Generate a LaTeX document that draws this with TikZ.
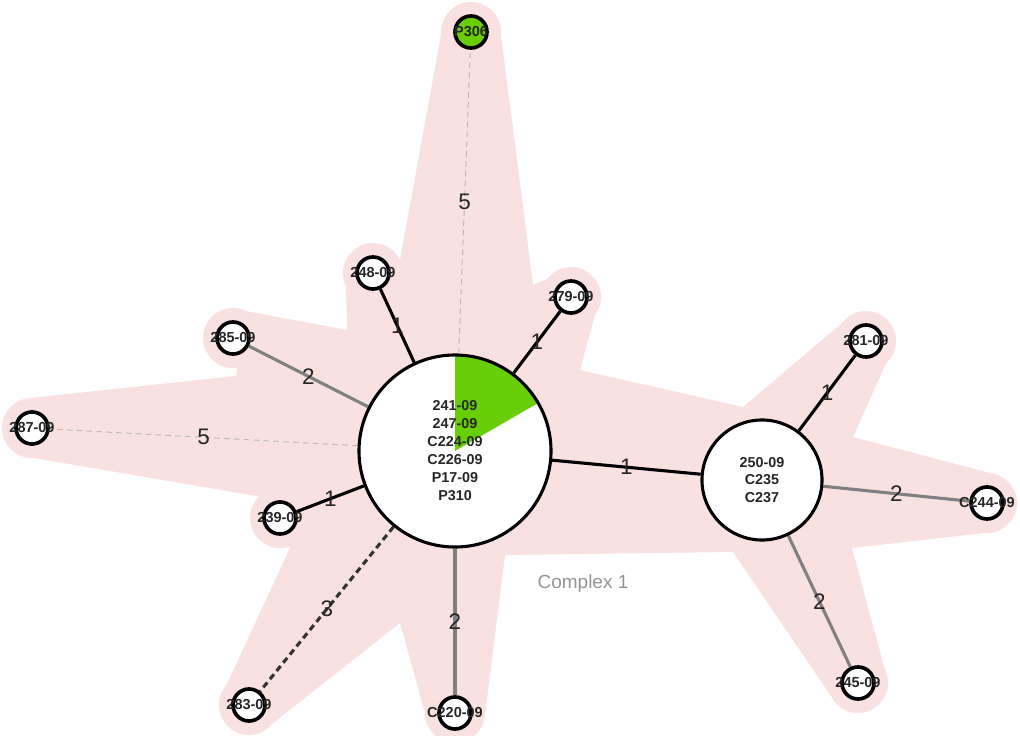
\documentclass[tikz,border=0pt]{standalone}
\usepackage{fontspec}
\setmainfont{Liberation Sans}
\usetikzlibrary{backgrounds}
\definecolor{hullpink}{RGB}{250,225,225}
\definecolor{hubgreen}{RGB}{104,206,8}
\definecolor{edgegray}{RGB}{128,128,128}
\definecolor{dashgray}{RGB}{185,185,185}

\begin{document}
\begin{tikzpicture}[x=0.025cm, y=-0.025cm,
  leaf/.style={circle, draw, line width=2.6pt, fill=white, minimum size=0.8cm, inner sep=0pt},
  hub/.style={circle, draw, line width=2.2pt, fill=white, inner sep=0pt, align=center, text=black!85},
  every label/.style={font=\fontsize{10.3}{10}\selectfont\bfseries, inner sep=0pt, text=black!85},
  elab/.style={font=\fontsize{16}{16}\selectfont, inner sep=0pt, text=black!85},
  e1/.style={line width=2.2pt},
  e2/.style={line width=2.2pt, edgegray},
  e3/.style={line width=2.2pt, black!80, dash pattern=on 4.5pt off 3pt},
  e5/.style={line width=0.7pt, dashgray, dash pattern=on 4pt off 3pt}]
  \useasboundingbox (0,0) rectangle (1020,736);

  \node[hub, minimum size=4.8cm, font=\fontsize{10.2}{12.8}\selectfont\bfseries,
    path picture={\fill[hubgreen] (path picture bounding box.center) -- ++(30:3cm) arc (30:90:3cm) -- cycle;}]
    (hubA) at (455,451) {241-09\\247-09\\C224-09\\C226-09\\P17-09\\P310};
  \node[hub, minimum size=3cm, font=\fontsize{10.2}{12.2}\selectfont\bfseries] (hubB) at (762,480) {250-09\\C235\\C237};

  \node[leaf, fill=hubgreen, label=center:P306] (p306) at (471,32) {};
  \node[leaf, label=center:248-09] (n248) at (373,273) {};
  \node[leaf, label=center:279-09] (n279) at (571,297) {};
  \node[leaf, label=center:285-09] (n285) at (233,338) {};
  \node[leaf, label=center:287-09] (n287) at (32,428) {};
  \node[leaf, label=center:239-09] (n239) at (280,518) {};
  \node[leaf, label=center:283-09] (n283) at (249,705) {};
  \node[leaf, label=center:C220-09] (c220) at (455,713) {};
  \node[leaf, label=center:281-09] (n281) at (866,341) {};
  \node[leaf, label=center:C244-09] (c244) at (987,503) {};
  \node[leaf, label=center:245-09] (n245) at (858,683) {};

  \node[text=black!42, font=\fontsize{13.5}{14}\selectfont] (cplx) at (583,584) {Complex 1};

  \begin{scope}[on background layer]
    % complex hull
    \fill[hullpink] (441,35) -- (501,35) -- (533,285) -- (547,279) -- (595,315) -- (580,370)
      -- (743,407) -- (842,323) -- (892,350) -- (853,437) -- (990,473) -- (984,533)
      -- (852,548) -- (885,670) -- (831,696) -- (733,552) -- (505,555) -- (485,715)
      -- (425,713) -- (400,623) -- (272,724) -- (226,686) -- (290,548) -- (262,497)
      -- (34,458) -- (30,398) -- (236,376) -- (246,311) -- (347,330) -- (346,286)
      -- (400,260) -- cycle;
    \foreach \n in {p306,n248,n279,n285,n287,n239,n283,c220,n281,c244,n245}
      \fill[hullpink] (\n.center) circle (0.75cm);

    \draw[e5] (hubA) -- node[elab]{5} (p306);
    \draw[e1] (hubA) -- node[elab]{1} (n248);
    \draw[e1] (hubA) -- node[elab]{1} (n279);
    \draw[e2] (hubA) -- node[elab]{2} (n285);
    \draw[e5] (hubA) -- node[elab]{5} (n287);
    \draw[e1] (hubA) -- node[elab]{1} (n239);
    \draw[e3] (hubA) -- node[elab]{3} (n283);
    \draw[e2] (hubA) -- node[elab]{2} (c220);
    \draw[e1] (hubA) -- node[elab]{1} (hubB);
    \draw[e1] (hubB) -- node[elab]{1} (n281);
    \draw[e2] (hubB) -- node[elab]{2} (c244);
    \draw[e2] (hubB) -- node[elab]{2} (n245);
  \end{scope}
\end{tikzpicture}
\end{document}
